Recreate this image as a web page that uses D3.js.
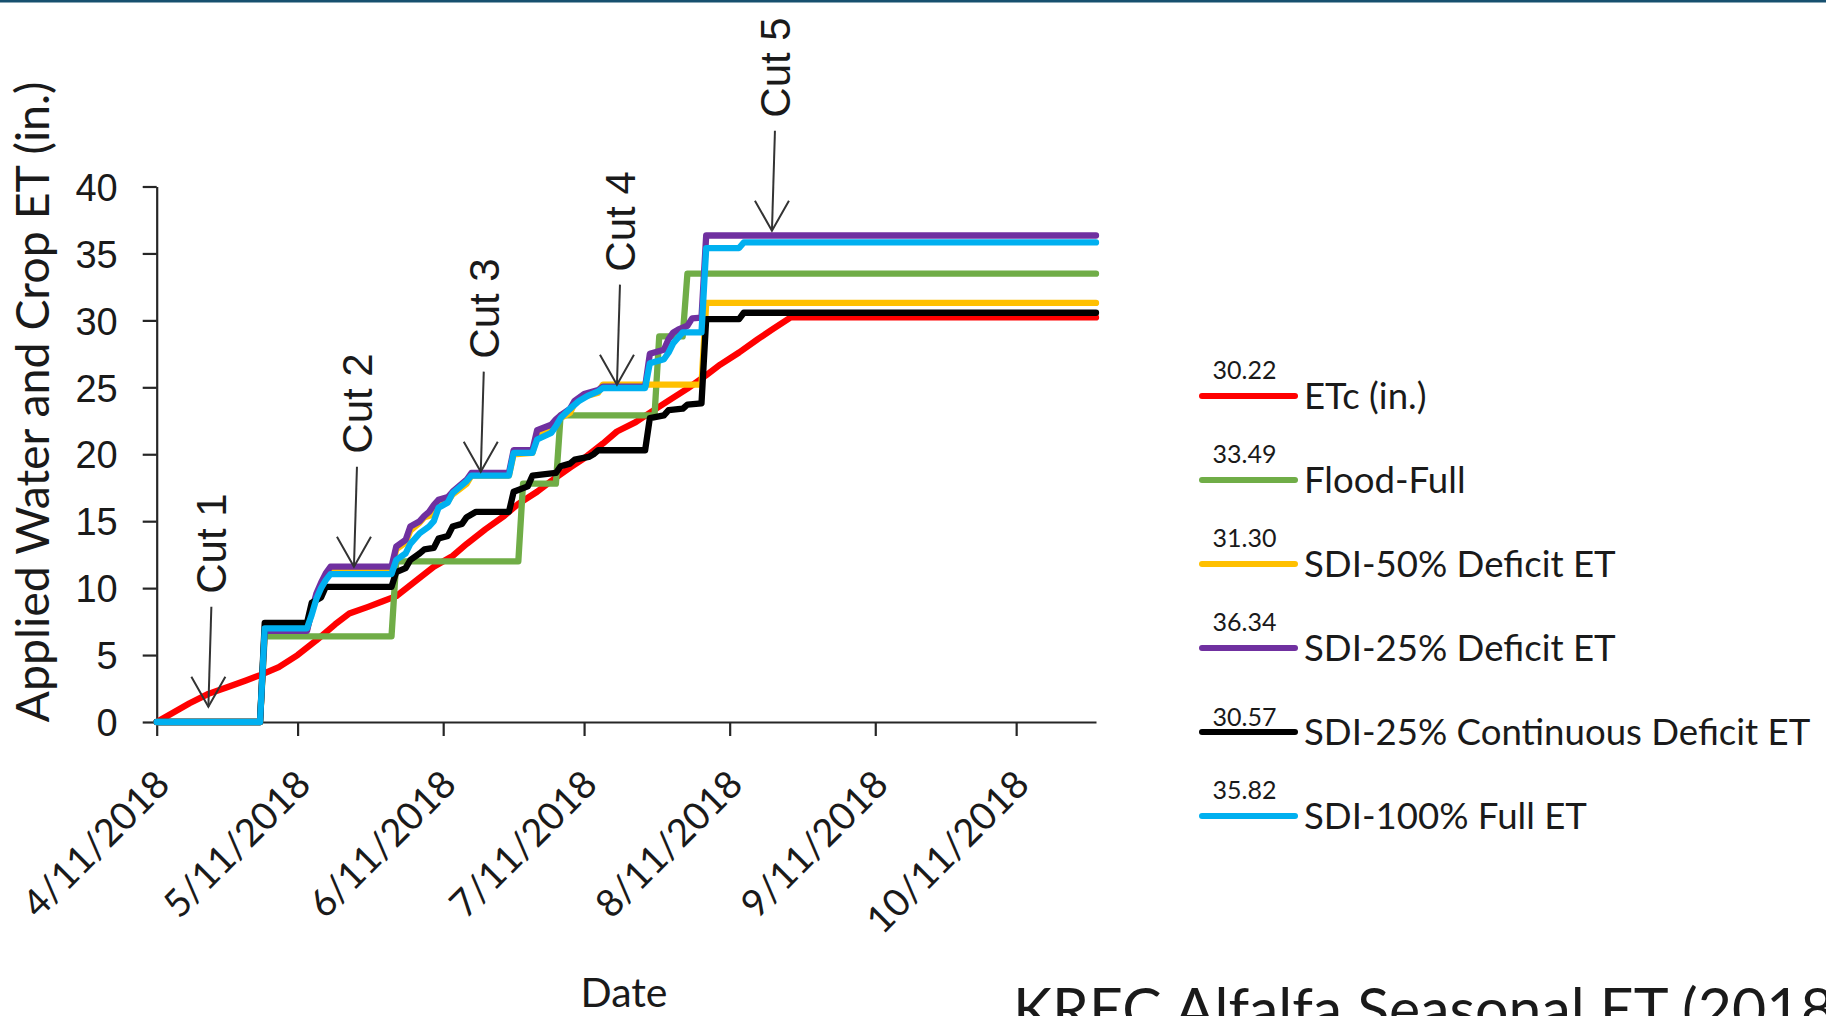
<!DOCTYPE html>
<html>
<head>
<meta charset="utf-8">
<script src="https://cdn.jsdelivr.net/npm/d3@7"></script>
<style>
  html, body { margin: 0; padding: 0; background: #ffffff; overflow: hidden; }
  svg { display: block; }
</style>
</head>
<body>
<svg id="chart" width="1826" height="1016"></svg>
<script>
// ---- Data: cumulative applied water / crop ET (inches), KREC alfalfa 2018 ----
const seriesNames  = ["ETc (in.)", "Flood-Full", "SDI-50% Deficit ET", "SDI-25% Deficit ET",
                      "SDI-25% Continuous Deficit ET", "SDI-100% Full ET"];
const seriesTotals = ["30.22", "33.49", "31.30", "36.34", "30.57", "35.82"];
const seriesColors = ["#FF0000", "#70AD47", "#FFC000", "#7030A0", "#000000", "#00B0F0"];

const xTickLabels = ["4/11/2018", "5/11/2018", "6/11/2018", "7/11/2018", "8/11/2018", "9/11/2018", "10/11/2018"];
const yTickValues = [0, 5, 10, 15, 20, 25, 30, 35, 40];
const seasonStart = "4/11";
const seasonEnd   = "10/28";

// ETc (crop evapotranspiration)
const etcDates  = ["4/11","4/14","4/18","4/22","4/26","4/30","5/3","5/7","5/11","5/15","5/19","5/22","5/26","5/29",
                   "6/1","6/5","6/9","6/13","6/16","6/20","6/24","6/27","7/1","7/4","7/8","7/11","7/15","7/18",
                   "7/22","7/25","7/29","8/2","8/6","8/9","8/13","8/17","8/20","8/24","10/28"];
const etcValues = [0,0.6,1.4,2.1,2.6,3.1,3.5,4.1,5.0,6.1,7.3,8.1,8.6,9.0,
                   9.4,10.5,11.6,12.4,13.3,14.4,15.4,16.3,17.2,18.0,19.0,19.7,20.8,21.7,
                   22.4,23.1,24.0,24.9,25.9,26.7,27.6,28.6,29.3,30.22,30.22];

// Flood-Full
const floodDates  = ["4/11","5/3","5/4","5/31","6/1","6/27","6/28","7/5","7/6","7/26","7/27","8/1","8/2","10/28"];
const floodValues = [0,0,6.4,6.4,12.0,12.0,17.8,17.8,22.9,22.9,28.8,28.8,33.49,33.49];

// SDI-50% Deficit ET
const sdi50Dates  = ["4/11","5/3","5/4","5/13","5/14","5/15","5/16","5/17","5/18","5/31","6/1","6/3","6/4","6/6",
                     "6/7","6/9","6/10","6/12","6/13","6/16","6/17","6/25","6/26","6/30","7/1","7/4","7/5","7/8",
                     "7/9","7/11","7/14","7/15","8/5","8/6","10/28"];
const sdi50Values = [0,0,6.9,6.9,8.2,9.4,10.1,10.8,11.3,11.3,12.9,13.4,14.3,14.9,
                     15.3,15.5,16.3,16.5,17.0,17.8,18.4,18.4,20.0,20.1,21.4,21.8,22.5,23.1,
                     23.8,24.3,24.6,25.2,25.2,31.30,31.30];

// SDI-25% Deficit ET
const sdi25Dates  = ["4/11","5/3","5/4","5/13","5/14","5/15","5/16","5/17","5/18","5/31","6/1","6/3","6/4","6/6",
                     "6/7","6/8","6/9","6/10","6/12","6/13","6/16","6/17","6/25","6/26","6/30","7/1","7/4","7/5",
                     "7/6","7/8","7/9","7/11","7/14","7/15","7/24","7/25","7/28","7/29","7/30","7/31","8/2","8/3",
                     "8/5","8/6","10/28"];
const sdi25Values = [0,0,6.8,6.8,8.3,9.6,10.4,11.1,11.6,11.6,13.1,13.6,14.6,15.0,
                     15.4,15.7,16.2,16.6,16.8,17.2,18.1,18.6,18.6,20.3,20.3,21.8,22.2,22.6,
                     22.9,23.4,24.0,24.5,24.8,25.05,25.05,27.5,27.8,28.6,29.1,29.3,29.6,30.15,
                     30.2,36.34,36.34];

// SDI-25% Continuous Deficit ET
const sdiContDates  = ["4/11","5/3","5/4","5/13","5/14","5/16","5/17","5/31","6/1","6/3","6/4","6/6","6/7","6/9",
                       "6/10","6/12","6/13","6/15","6/16","6/18","6/25","6/26","6/29","6/30","7/5","7/6","7/8","7/9",
                       "7/12","7/13","7/14","7/24","7/25","7/28","7/29","8/1","8/2","8/5","8/6","8/13","8/14","10/28"];
const sdiContValues = [0,0,7.4,7.4,8.9,9.3,10.1,10.1,11.2,11.5,12.1,12.6,12.9,13.0,
                       13.7,13.9,14.6,14.8,15.3,15.7,15.7,17.2,17.6,18.4,18.6,19.1,19.3,19.6,
                       19.8,20.0,20.3,20.3,22.7,22.9,23.3,23.4,23.7,23.8,30.1,30.1,30.57,30.57];

// SDI-100% Full ET
const sdi100Dates  = ["4/11","5/3","5/4","5/13","5/14","5/15","5/16","5/17","5/18","5/31","6/1","6/3","6/4","6/6",
                      "6/8","6/9","6/10","6/12","6/13","6/16","6/17","6/25","6/26","6/30","7/1","7/4","7/5","7/6",
                      "7/8","7/10","7/12","7/14","7/15","7/24","7/25","7/28","7/29","7/30","8/1","8/5","8/6","8/13",
                      "8/14","10/28"];
const sdi100Values = [0,0,7.0,7.0,8.0,9.2,10.0,10.6,11.05,11.05,12.1,12.6,13.3,14.1,
                      14.6,15.0,16.0,16.4,17.1,18.0,18.4,18.4,20.1,20.1,21.1,21.6,22.1,22.7,
                      23.4,24.0,24.4,24.7,24.95,24.95,26.8,27.1,27.6,28.3,29.1,29.1,35.4,35.4,
                      35.82,35.82];

// Harvest (cut) annotations: date and the level the arrow points at
const cutNames  = ["Cut 1", "Cut 2", "Cut 3", "Cut 4", "Cut 5"];
const cutDates  = ["4/22", "5/23", "6/19", "7/18", "8/20"];
const cutValues = [1.14, 11.6, 18.7, 25.2, 36.7];

// ---- Drawing ----
const parseDay = d3.timeParse("%m/%d/%Y");
const day = s => parseDay(s + "/2018");
const toPoints = (dates, values) => dates.map((d, i) => ({ date: day(d), value: values[i] }));

const seriesPoints = [
  toPoints(etcDates, etcValues),
  toPoints(floodDates, floodValues),
  toPoints(sdi50Dates, sdi50Values),
  toPoints(sdi25Dates, sdi25Values),
  toPoints(sdiContDates, sdiContValues),
  toPoints(sdi100Dates, sdi100Values)
];

const svg = d3.select("#chart");
const calibriLike = "Lato, 'Open Sans', sans-serif";
const arialLike = "'Liberation Sans', Arial, sans-serif";
const textColor = "#1a1a1a";
const axisColor = "#262626";

const plot = { left: 156.7, right: 1096, top: 186.5, bottom: 722 };

const x = d3.scaleTime()
  .domain([day(seasonStart), day(seasonEnd)])
  .range([plot.left, plot.right]);
const y = d3.scaleLinear()
  .domain([0, 40])
  .range([plot.bottom, plot.top]);

// slide header rule
svg.append("rect").attr("x", 0).attr("y", 0).attr("width", 1826).attr("height", 2.5).attr("fill", "#17506f");

// y axis
const gy = svg.append("g")
  .attr("transform", `translate(${plot.left},0)`)
  .call(d3.axisLeft(y).tickValues(yTickValues).tickSize(14).tickSizeOuter(0).tickPadding(25));
gy.selectAll("text")
  .attr("font-family", arialLike).attr("font-size", 38).attr("fill", textColor).attr("dy", "0.36em");

// x axis
const gx = svg.append("g")
  .attr("transform", `translate(0,${plot.bottom})`)
  .call(d3.axisBottom(x)
    .tickValues(xTickLabels.map(s => parseDay(s)))
    .tickFormat((d, i) => xTickLabels[i])
    .tickSize(14).tickSizeOuter(0));
gx.selectAll("text")
  .attr("font-family", calibriLike).attr("font-size", 38).attr("fill", textColor)
  .attr("x", 0).attr("y", 0).attr("dy", "0.36em")
  .attr("text-anchor", "end")
  .attr("transform", "translate(5,55) rotate(-45)");

[gx, gy].forEach(g => {
  g.select(".domain").attr("stroke", axisColor).attr("stroke-width", 2.2);
  g.selectAll(".tick line").attr("stroke", axisColor).attr("stroke-width", 2.2);
});

// axis titles
svg.append("text")
  .attr("transform", "translate(49,402) rotate(-90)")
  .attr("text-anchor", "middle")
  .attr("font-family", calibriLike).attr("font-size", 46.5).attr("fill", textColor)
  .text("Applied Water and Crop ET (in.)");

svg.append("text")
  .attr("x", 624).attr("y", 1007)
  .attr("text-anchor", "middle")
  .attr("font-family", calibriLike).attr("font-size", 41).attr("fill", textColor)
  .text("Date");

// series lines (later series drawn on top)
const line = d3.line().x(d => x(d.date)).y(d => y(d.value));
svg.append("g").selectAll("path")
  .data(seriesPoints)
  .join("path")
  .attr("d", line)
  .attr("fill", "none")
  .attr("stroke", (d, i) => seriesColors[i])
  .attr("stroke-width", 6.3)
  .attr("stroke-linejoin", "round")
  .attr("stroke-linecap", "round");

// cut arrows with rotated labels
const arrowLen = 100, headDx = 17, headDy = 30, lean = 3, labelGap = 13;
const cuts = svg.append("g");
cutNames.forEach((name, i) => {
  const tx = x(day(cutDates[i])), ty = y(cutValues[i]);
  const g = cuts.append("g").attr("stroke", "#333333").attr("stroke-width", 2).attr("fill", "none");
  g.append("line").attr("x1", tx + lean).attr("y1", ty - arrowLen).attr("x2", tx).attr("y2", ty);
  g.append("path").attr("d", `M${tx - headDx},${ty - headDy}L${tx},${ty}L${tx + headDx},${ty - headDy}`);
  cuts.append("text")
    .attr("transform", `translate(${tx + lean + 15},${ty - arrowLen - labelGap}) rotate(-90)`)
    .attr("text-anchor", "start")
    .attr("font-family", arialLike).attr("font-size", 42).attr("fill", textColor)
    .text(name);
});

// legend with season totals
const legend = svg.append("g");
const legendTop = 396, legendStep = 84, legendX0 = 1202, legendX1 = 1295;
const totalLift = [26, 26, 26, 26, 15, 26];
seriesNames.forEach((name, i) => {
  const ly = legendTop + i * legendStep;
  legend.append("line")
    .attr("x1", legendX0).attr("x2", legendX1).attr("y1", ly).attr("y2", ly)
    .attr("stroke", seriesColors[i]).attr("stroke-width", 6).attr("stroke-linecap", "round");
  legend.append("text")
    .attr("x", (legendX0 + legendX1) / 2 - 4).attr("y", ly - totalLift[i]).attr("dy", "0.36em")
    .attr("text-anchor", "middle")
    .attr("font-family", calibriLike).attr("font-size", 25).attr("fill", textColor)
    .text(seriesTotals[i]);
  legend.append("text")
    .attr("x", 1304).attr("y", ly).attr("dy", "0.36em")
    .attr("font-family", calibriLike).attr("font-size", 36.6).attr("fill", textColor)
    .text(name);
});

// slide title (runs off the bottom edge of the page)
svg.append("text")
  .attr("x", 1013).attr("y", 1030)
  .attr("font-family", calibriLike).attr("font-size", 59).attr("fill", textColor)
  .text("KREC Alfalfa Seasonal ET (2018)");
</script>
</body>
</html>
